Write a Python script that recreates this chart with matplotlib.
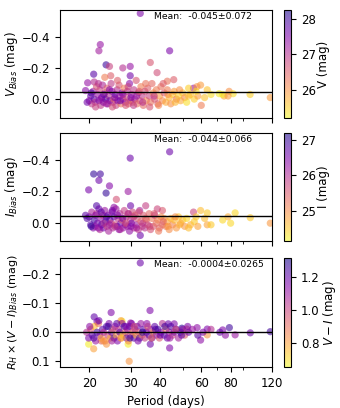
import numpy as np
import matplotlib
matplotlib.use("Agg")
import matplotlib.pyplot as plt
from matplotlib.ticker import FixedLocator, NullFormatter, MultipleLocator, LogLocator

# ---- panel 1: V bias ----
v_period = [33.0, 22.3, 22.0, 44.0, 23.6, 24.4, 20.9, 27.8, 29.9, 29.9,
            36.4, 45.8, 38.9, 43.0, 24.7, 23.3, 19.7, 21.0, 55.6, 59.6,
            53.0, 63.6, 78.8, 82.0, 71.5, 75.0, 96.8, 118.0, 19.3, 57.5,
            20.0, 20.3, 20.5, 20.8, 21.0, 21.2, 21.5, 21.7, 22.0, 22.2,
            22.4, 22.6, 22.8, 23.0, 23.3, 23.5, 23.8, 24.0, 24.2, 24.5,
            24.8, 25.0, 25.2, 25.5, 25.8, 26.0, 26.3, 26.5, 26.8, 27.0,
            27.3, 27.6, 27.9, 28.2, 28.5, 28.8, 29.1, 29.4, 29.7, 30.0,
            30.3, 30.6, 31.0, 31.3, 31.7, 32.0, 32.4, 32.8, 33.2, 33.6,
            34.0, 34.5, 35.0, 35.5, 36.0, 36.5, 37.0, 37.5, 38.0, 38.6,
            39.2, 39.8, 40.4, 41.0, 41.7, 42.4, 43.0, 43.8, 44.5, 45.3,
            46.0, 47.0, 48.0, 49.0, 50.0, 51.0, 52.0, 54.0, 56.0, 58.0,
            60.0, 62.0, 66.0, 74.0, 78.0,
            19.6, 20.4, 21.3, 21.9, 22.5, 23.1, 23.7, 24.4, 25.1, 25.7,
            26.4, 27.1, 27.8, 28.6, 29.3, 30.1, 30.9, 31.8, 32.6, 33.8,
            34.8, 36.2, 37.8, 39.5, 41.3, 43.3, 46.5, 48.5, 53.0, 57.0]
v_bias = [-0.55, -0.35, -0.31, -0.31, -0.22, -0.21, -0.16, -0.20, -0.21, -0.15,
          -0.235, -0.125, -0.17, -0.115, -0.15, -0.14, -0.105, -0.11, -0.07, -0.09,
          -0.07, -0.06, -0.05, -0.035, -0.035, -0.02, -0.03, -0.01, -0.055, -0.08,
          0.01, -0.02, 0.03, -0.05, 0.00, 0.02, -0.08, -0.03, 0.01, -0.06,
          0.04, -0.01, -0.09, 0.02, -0.04, 0.00, -0.07, 0.03, -0.02, 0.01,
          -0.10, -0.05, 0.02, 0.00, -0.03, 0.04, -0.06, 0.01, -0.09, -0.02,
          0.03, -0.04, 0.00, -0.07, 0.02, -0.01, -0.05, 0.03, -0.10, 0.01,
          -0.03, 0.02, -0.06, 0.00, -0.12, 0.03, -0.04, 0.01, -0.08, -0.02,
          0.04, -0.05, 0.01, -0.07, -0.02, 0.02, -0.10, -0.04, 0.00, -0.06,
          0.03, -0.02, -0.08, 0.01, -0.04, 0.02, -0.06, -0.01, 0.03, -0.03,
          -0.05, 0.00, -0.02, 0.01, -0.04, -0.01, 0.02, -0.03, 0.00, -0.02,
          0.04, -0.01, -0.03, -0.03, -0.02,
          0.02, -0.04, 0.05, -0.10, 0.00, -0.03, 0.03, -0.06, 0.05, -0.01,
          -0.12, 0.01, -0.03, 0.04, -0.08, -0.01, 0.04, -0.02, -0.05, 0.02,
          -0.10, 0.05, -0.02, 0.04, -0.10, -0.03, 0.02, -0.06, -0.02, -0.05]
v_mag = [27.5, 27.3, 27.2, 27.5, 28.0, 26.8, 27.8, 27.0, 27.3, 27.6,
         26.6, 26.5, 26.7, 26.3, 26.5, 26.2, 27.3, 27.0, 27.3, 25.9,
         25.5, 25.6, 26.0, 25.4, 25.3, 25.8, 25.5, 25.9, 27.4, 26.0,
         27.4, 27.6, 26.9, 27.2, 27.8, 27.0, 26.6, 27.3, 27.5, 26.8,
         26.9, 27.6, 27.1, 27.4, 26.7, 27.9, 26.5, 27.2, 27.0, 27.6,
         26.9, 27.3, 27.1, 26.4, 27.7, 26.8, 27.0, 27.4, 26.6, 27.2,
         26.3, 27.5, 26.9, 26.2, 27.3, 26.7, 27.0, 26.5, 27.4, 26.8,
         27.1, 26.4, 26.9, 27.2, 26.6, 26.3, 27.0, 26.6, 26.2, 26.9,
         26.4, 26.7, 26.1, 26.5, 26.8, 26.3, 26.4, 26.0, 26.6, 26.2,
         26.5, 25.9, 26.3, 26.1, 26.6, 25.8, 26.2, 25.7, 26.0, 25.6,
         25.9, 26.3, 25.5, 25.8, 25.6, 26.0, 25.4, 25.7, 25.5, 25.9,
         26.2, 25.6, 25.4, 25.3, 25.9,
         27.6, 27.9, 26.8, 27.0, 27.3, 27.7, 27.2, 27.4, 26.7, 27.5,
         26.5, 27.6, 27.3, 26.6, 26.8, 27.5, 26.9, 27.3, 26.5, 27.0,
         26.3, 26.6, 26.9, 26.1, 26.5, 26.0, 25.7, 26.0, 25.6, 25.4]

# ---- panel 2: I bias ----
i_period = [44.0, 29.9, 20.9, 22.3, 22.0, 19.9, 24.4, 23.6, 29.3, 26.1,
            30.0, 34.8, 33.0, 59.6, 55.6, 63.6, 83.6, 78.0, 97.0, 118.0,
            80.0, 63.6, 41.0, 39.0, 21.5, 19.3, 25.5,
            20.0, 20.3, 20.5, 20.8, 21.0, 21.2, 21.5, 21.7, 22.0, 22.2,
            22.4, 22.6, 22.8, 23.0, 23.3, 23.5, 23.8, 24.0, 24.2, 24.5,
            24.8, 25.0, 25.2, 25.5, 25.8, 26.0, 26.3, 26.5, 26.8, 27.0,
            27.3, 27.6, 27.9, 28.2, 28.5, 28.8, 29.1, 29.4, 29.7, 30.0,
            30.3, 30.6, 31.0, 31.3, 31.7, 32.0, 32.4, 32.8, 33.2, 33.6,
            34.0, 34.5, 35.0, 35.5, 36.0, 36.5, 37.0, 37.5, 38.0, 38.6,
            39.2, 39.8, 40.4, 41.0, 41.7, 42.4, 43.0, 43.8, 44.5, 45.3,
            46.0, 47.0, 48.0, 49.0, 50.0, 51.0, 52.0, 54.0, 56.0, 58.0,
            62.0, 66.0, 74.0,
            19.6, 20.4, 21.3, 21.9, 22.5, 23.1, 23.7, 24.4, 25.1, 25.7,
            26.4, 27.1, 27.8, 28.6, 29.3, 30.1, 30.9, 31.8, 32.6, 33.8,
            34.8, 36.2, 37.8, 39.5, 41.3, 43.3, 46.5, 48.5, 53.0, 57.0]
i_bias = [-0.45, -0.41, -0.31, -0.31, -0.27, -0.21, -0.235, -0.19, -0.20, -0.15,
          -0.11, -0.11, 0.077, -0.08, -0.07, -0.065, -0.065, -0.04, -0.035, 0.0,
          0.0, 0.01, -0.08, -0.09, -0.11, -0.05, -0.10,
          -0.04, 0.01, -0.07, 0.03, -0.02, 0.02, -0.06, 0.00, -0.09, 0.04,
          -0.03, 0.01, -0.05, 0.03, -0.08, -0.01, 0.02, -0.05, 0.05, -0.02,
          0.00, -0.07, 0.03, -0.04, 0.01, -0.09, 0.02, -0.03, 0.04, -0.06,
          0.00, -0.02, 0.03, -0.08, 0.01, -0.04, 0.02, -0.06, 0.05, -0.02,
          0.00, -0.07, 0.03, -0.05, 0.01, -0.03, 0.04, -0.08, -0.01, 0.02,
          -0.05, 0.03, -0.02, 0.01, -0.06, 0.04, -0.03, 0.02, -0.05, 0.00,
          -0.02, 0.03, -0.04, 0.01, -0.03, 0.02, -0.01, 0.04, -0.03, 0.01,
          -0.02, 0.03, -0.04, 0.00, -0.02, 0.02, -0.03, 0.01, -0.01, 0.02,
          -0.03, 0.01, -0.02,
          -0.03, 0.02, -0.05, 0.03, -0.07, 0.00, -0.04, 0.01, -0.08, 0.02,
          -0.05, 0.04, -0.03, 0.00, -0.06, 0.02, -0.04, 0.03, -0.07, 0.00,
          -0.03, 0.02, -0.06, 0.05, -0.01, 0.02, -0.04, 0.01, 0.03, -0.04]
i_mag = [26.6, 26.6, 27.0, 26.9, 26.6, 26.5, 26.4, 27.0, 26.2, 25.6,
         26.6, 25.8, 26.6, 24.6, 25.7, 24.5, 24.4, 24.7, 24.5, 24.9,
         24.4, 24.8, 25.5, 25.7, 26.8, 26.7, 26.3,
         26.5, 26.7, 26.1, 26.4, 26.9, 26.2, 25.8, 26.5, 26.6, 26.0,
         26.3, 26.8, 25.9, 26.5, 26.2, 26.9, 25.7, 26.4, 26.1, 26.6,
         25.8, 26.3, 26.0, 26.7, 25.6, 26.2, 26.5, 25.9, 26.3, 26.0,
         26.6, 25.5, 26.2, 25.8, 26.4, 25.7, 26.1, 25.6, 26.3, 25.9,
         26.5, 25.7, 26.0, 25.5, 26.2, 25.6, 25.9, 26.1, 25.4, 25.8,
         25.5, 25.9, 25.3, 25.7, 25.4, 25.6, 25.2, 25.5, 25.8, 25.3,
         25.1, 25.4, 25.0, 25.3, 24.9, 25.2, 24.8, 25.0, 24.7, 25.1,
         24.6, 24.9, 24.5, 24.8, 24.6, 24.9, 24.4, 24.7, 24.5, 24.8,
         24.6, 24.5, 24.4,
         26.8, 27.0, 26.4, 26.3, 26.7, 26.0, 26.8, 26.2, 26.5, 25.9,
         26.4, 26.1, 26.5, 25.6, 26.0, 26.4, 25.8, 26.1, 25.6, 25.9,
         25.4, 25.7, 25.5, 25.2, 25.4, 24.9, 25.0, 24.7, 24.6, 24.5]

# ---- panel 3: R_H x (V-I) bias ----
c_period = [33.0, 36.3, 24.8, 21.0, 21.6, 27.6, 27.3, 29.6, 19.9, 20.9,
            29.3, 23.7, 36.4, 43.4, 46.0, 44.0, 59.6, 79.0, 74.0, 83.6,
            97.0, 118.0, 63.6, 63.6, 57.6, 49.6, 52.0, 30.0, 22.5,
            19.5, 19.9, 20.3, 20.6, 21.0, 21.3, 21.6, 21.9, 22.2, 22.5,
            22.8, 23.1, 23.4, 23.7, 24.0, 24.3, 24.6, 24.9, 25.2, 25.5,
            25.8, 26.1, 26.4, 26.7, 27.0, 27.3, 27.6, 27.9, 28.2, 28.5,
            28.8, 29.1, 29.4, 29.7, 30.0, 30.3, 30.6, 31.0, 31.3, 31.7,
            32.0, 32.4, 32.8, 33.2, 33.6, 34.0, 34.5, 35.0, 35.5, 36.0,
            36.5, 37.0, 37.5, 38.0, 38.6, 39.2, 39.8, 40.4, 41.0, 41.7,
            42.4, 43.0, 43.8, 44.5, 45.3, 46.0, 47.0, 48.0, 49.0, 50.0,
            51.0, 53.0, 55.0, 58.0, 61.0, 66.0, 72.0, 76.0,
            20.1, 20.9, 22.0, 23.0, 24.1, 25.0, 26.2, 27.4, 28.6, 29.8,
            31.1, 32.3, 33.7, 35.2, 36.8, 38.3, 40.1, 42.0, 44.1, 46.7,
            49.5, 52.5]
c_bias = [-0.239, -0.075, -0.068, -0.053, -0.037, -0.038, -0.040, 0.100, 0.041, 0.057,
          0.041, 0.041, 0.041, -0.029, -0.029, 0.054, 0.027, -0.016, -0.008, 0.009,
          0.002, -0.002, -0.011, 0.009, -0.016, -0.014, -0.011, -0.032, 0.030,
          0.00, 0.02, -0.01, 0.01, -0.02, 0.03, 0.00, -0.03, 0.01, 0.02,
          -0.01, 0.00, 0.03, -0.02, 0.01, -0.03, 0.02, 0.00, -0.01, 0.02,
          -0.02, 0.01, 0.03, -0.01, 0.00, 0.02, -0.03, 0.01, -0.02, 0.00,
          0.02, -0.01, 0.03, -0.02, 0.01, -0.03, 0.00, 0.02, -0.01, 0.01,
          -0.02, 0.00, 0.02, -0.03, 0.01, -0.01, 0.02, 0.00, -0.02, 0.01,
          -0.01, 0.02, 0.00, -0.02, 0.01, -0.01, 0.02, 0.00, -0.03, 0.01,
          -0.01, 0.02, 0.00, -0.02, 0.01, 0.00, -0.01, 0.02, 0.00, -0.01,
          0.01, 0.00, -0.01, 0.01, 0.00, -0.01, 0.00, 0.01,
          -0.02, 0.02, -0.04, 0.03, -0.02, 0.03, -0.03, 0.02, -0.02, 0.02,
          -0.02, 0.03, 0.00, -0.03, 0.02, -0.01, 0.01, -0.02, 0.02, -0.01,
          0.01, -0.02]
c_color = [1.18, 1.15, 1.15, 1.20, 1.15, 0.68, 0.80, 0.82, 0.68, 0.80,
           0.68, 0.82, 1.18, 1.18, 1.15, 1.15, 1.12, 1.25, 1.15, 1.10,
           1.18, 1.25, 1.15, 0.82, 1.12, 1.28, 0.95, 1.10, 0.92,
           1.05, 1.15, 0.95, 1.20, 0.75, 1.10, 1.25, 0.90, 1.15, 0.80,
           1.20, 1.05, 0.85, 1.22, 1.00, 1.15, 0.78, 1.18, 0.92, 1.25,
           1.10, 0.82, 1.15, 1.02, 1.20, 0.88, 1.12, 0.72, 1.25, 0.95,
           1.18, 1.08, 0.85, 1.20, 1.00, 1.15, 0.90, 1.22, 1.05, 0.80,
           1.18, 0.95, 1.25, 1.10, 0.88, 1.20, 1.02, 1.15, 0.92, 1.22,
           1.08, 1.18, 0.85, 1.20, 1.12, 1.25, 0.95, 1.15, 1.05, 1.20,
           0.90, 1.18, 1.10, 1.22, 1.00, 1.15, 1.20, 1.08, 1.25, 1.12,
           0.95, 1.18, 1.10, 1.22, 1.15, 1.05, 1.20, 1.12,
           1.12, 1.22, 1.18, 0.82, 1.25, 1.08, 1.20, 0.78, 1.15, 1.25,
           0.98, 1.15, 1.28, 1.12, 0.92, 1.22, 1.18, 1.25, 1.10, 0.98,
           1.20, 1.15]

mean_labels = ["Mean:  -0.045\u00b10.072", "Mean:  -0.044\u00b10.066", "Mean:  -0.0004\u00b10.0265"]
mean_values = [-0.045, -0.044, -0.0004]
ylabels = [r"$V_{Bias}$ (mag)", r"$I_{Bias}$ (mag)", r"$R_H \times (V-I)_{Bias}$ (mag)"]
cbar_labels = ["V (mag)", "I (mag)", r"$V-I$ (mag)"]
xticks = [20, 30, 40, 60, 80, 120]

plt.rcParams.update({"font.family": "DejaVu Sans", "font.size": 8.5})

fig = plt.figure(figsize=(3.4, 4.08), dpi=100)

panels = [
    (v_period, v_bias, v_mag, (25.2, 28.25), (0.123, -0.573), 0.2, 0.710),
    (i_period, i_bias, i_mag, (24.15, 27.2), (0.113, -0.571), 0.2, 0.409),
    (c_period, c_bias, c_color, (0.66, 1.31), (0.119, -0.255), 0.1, 0.101),
]

for k, (per, bias, col, clim, ylim, ystep, bottom) in enumerate(panels):
    ax = fig.add_axes([0.176, bottom, 0.624, 0.266])
    cax = fig.add_axes([0.836, bottom, 0.020, 0.266])
    sc = ax.scatter(per, bias, c=col, cmap="plasma_r", vmin=clim[0], vmax=clim[1],
                    s=27, alpha=0.58, linewidths=0)
    ax.axhline(mean_values[k], color="k", lw=1.0)
    ax.set_xscale("log")
    ax.set_xlim(15, 120)
    ax.set_ylim(*ylim)
    ax.yaxis.set_major_locator(MultipleLocator(ystep))
    ax.xaxis.set_major_locator(FixedLocator(xticks))
    ax.xaxis.set_minor_locator(LogLocator(base=10, subs=np.arange(2, 10)))
    ax.xaxis.set_minor_formatter(NullFormatter())
    if k < 2:
        ax.xaxis.set_major_formatter(NullFormatter())
    else:
        ax.set_xticklabels([str(t) for t in xticks])
        ax.set_xlabel("Period (days)")
    ax.set_ylabel(ylabels[k], fontsize=8.5 if k < 2 else 8.0, labelpad=1)
    ax.text(0.445, 0.94, mean_labels[k], transform=ax.transAxes,
            ha="left", va="center", fontsize=6.7)
    cb = fig.colorbar(sc, cax=cax)
    cb.set_label(cbar_labels[k], labelpad=1)
    cb.ax.tick_params(labelsize=8.5)

fig.savefig("out.png", dpi=100)
